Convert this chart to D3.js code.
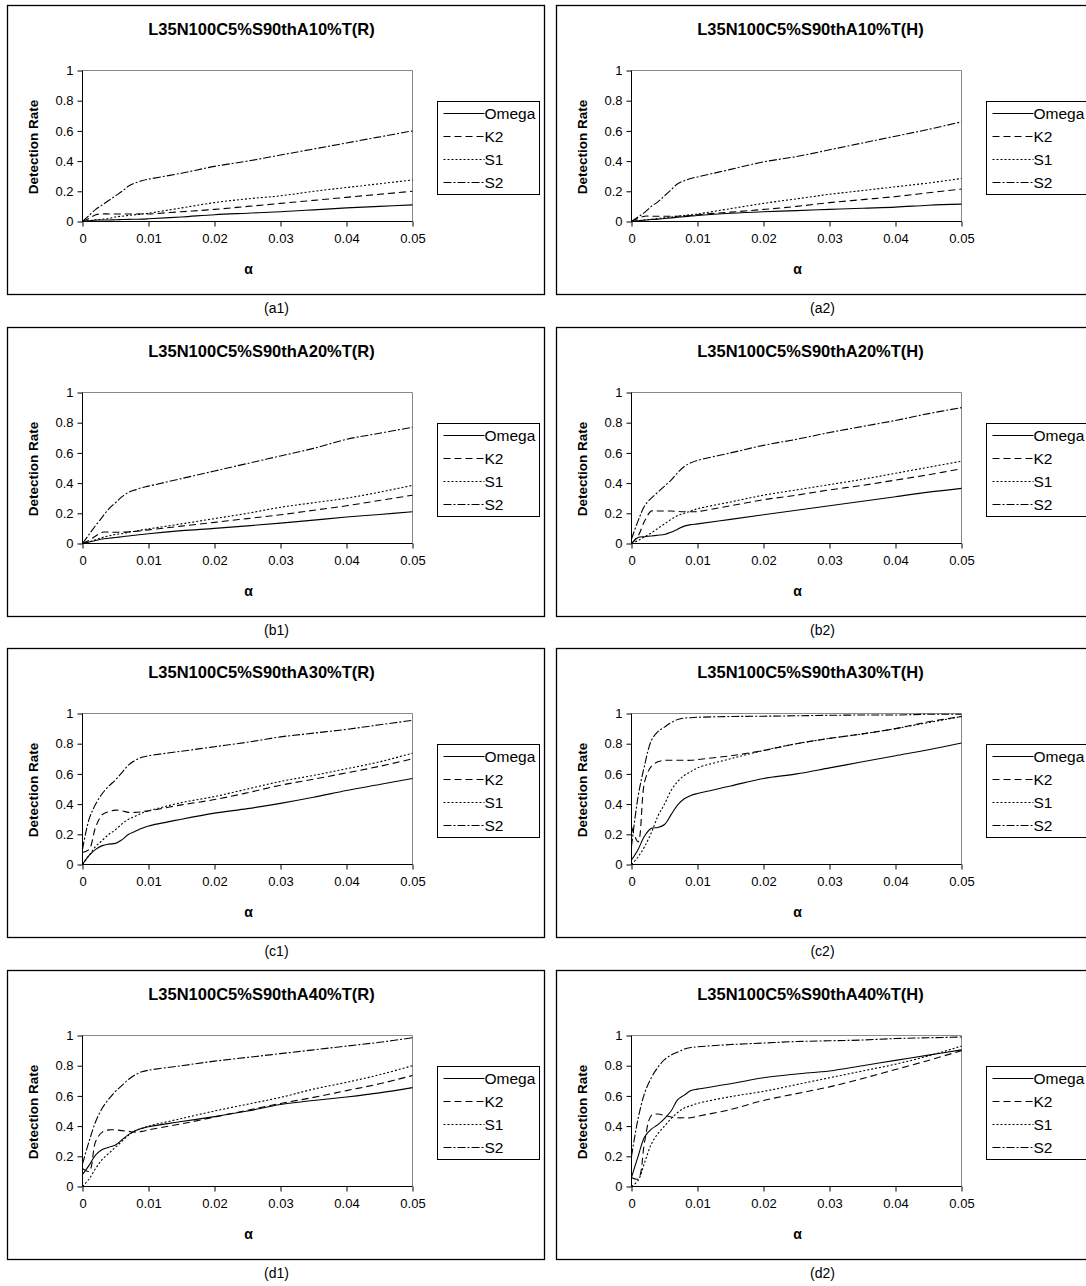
<!DOCTYPE html>
<html>
<head>
<meta charset="utf-8">
<script src="https://cdn.jsdelivr.net/npm/d3@7/dist/d3.min.js"></script>
<style>
  body { margin: 0; background: #fff; }
  svg { display: block; font-family: "Liberation Sans", Arial, sans-serif; }
</style>
</head>
<body>
<div id="chart"></div>
<script>
// ---- data ----
const alphas = [0, 0.001, 0.002, 0.003, 0.004, 0.005, 0.006, 0.007, 0.008, 0.009,
  0.01, 0.015, 0.02, 0.025, 0.03, 0.035, 0.04, 0.045, 0.05];
const seriesNames = ['Omega', 'K2', 'S1', 'S2'];
const xTicks = [0, 0.01, 0.02, 0.03, 0.04, 0.05];
const yTicks = [0, 0.2, 0.4, 0.6, 0.8, 1];

const titles = [
  'L35N100C5%S90thA10%T(R)', 'L35N100C5%S90thA10%T(H)',
  'L35N100C5%S90thA20%T(R)', 'L35N100C5%S90thA20%T(H)',
  'L35N100C5%S90thA30%T(R)', 'L35N100C5%S90thA30%T(H)',
  'L35N100C5%S90thA40%T(R)', 'L35N100C5%S90thA40%T(H)'
];
const captions = ['(a1)', '(a2)', '(b1)', '(b2)', '(c1)', '(c2)', '(d1)', '(d2)'];

// each panel: [Omega, K2, S1, S2]
const a1Values = [
  [0, 0.005, 0.01, 0.01, 0.01, 0.012, 0.013, 0.014, 0.015, 0.016, 0.018, 0.03, 0.045, 0.055, 0.065, 0.077, 0.09, 0.1, 0.11],
  [0, 0.02, 0.045, 0.05, 0.05, 0.05, 0.05, 0.05, 0.05, 0.05, 0.05, 0.065, 0.08, 0.1, 0.12, 0.14, 0.16, 0.18, 0.2],
  [0, 0.005, 0.01, 0.015, 0.02, 0.03, 0.035, 0.04, 0.045, 0.05, 0.055, 0.09, 0.125, 0.15, 0.17, 0.2, 0.225, 0.25, 0.275],
  [0, 0.04, 0.08, 0.11, 0.14, 0.17, 0.2, 0.235, 0.255, 0.27, 0.28, 0.32, 0.365, 0.4, 0.44, 0.48, 0.52, 0.56, 0.6]
];
const a2Values = [
  [0, 0.005, 0.01, 0.013, 0.016, 0.02, 0.024, 0.028, 0.032, 0.036, 0.04, 0.055, 0.065, 0.072, 0.08, 0.088, 0.095, 0.108, 0.115],
  [0, 0.02, 0.035, 0.035, 0.035, 0.035, 0.035, 0.035, 0.037, 0.04, 0.045, 0.062, 0.08, 0.1, 0.125, 0.145, 0.165, 0.19, 0.215],
  [0, 0.005, 0.01, 0.015, 0.02, 0.025, 0.03, 0.035, 0.04, 0.045, 0.05, 0.085, 0.12, 0.15, 0.18, 0.205, 0.23, 0.255, 0.285],
  [0, 0.03, 0.06, 0.1, 0.13, 0.17, 0.21, 0.25, 0.27, 0.285, 0.295, 0.345, 0.395, 0.43, 0.475, 0.52, 0.565, 0.61, 0.66]
];
const b1Values = [
  [0, 0.01, 0.02, 0.03, 0.035, 0.04, 0.045, 0.05, 0.055, 0.06, 0.065, 0.085, 0.1, 0.117, 0.135, 0.155, 0.175, 0.192, 0.21],
  [0, 0.02, 0.05, 0.075, 0.075, 0.075, 0.075, 0.077, 0.08, 0.085, 0.09, 0.115, 0.14, 0.165, 0.19, 0.22, 0.25, 0.285, 0.32],
  [0, 0.01, 0.025, 0.04, 0.05, 0.06, 0.065, 0.075, 0.082, 0.09, 0.097, 0.13, 0.165, 0.2, 0.24, 0.27, 0.3, 0.34, 0.385],
  [0, 0.06, 0.12, 0.175, 0.23, 0.27, 0.31, 0.34, 0.355, 0.37, 0.38, 0.43, 0.48, 0.53, 0.58, 0.63, 0.69, 0.73, 0.77]
];
const b2Values = [
  [0, 0.04, 0.045, 0.05, 0.055, 0.06, 0.075, 0.095, 0.115, 0.125, 0.13, 0.16, 0.19, 0.22, 0.25, 0.28, 0.31, 0.34, 0.365],
  [0, 0.05, 0.15, 0.215, 0.215, 0.215, 0.215, 0.212, 0.21, 0.21, 0.212, 0.25, 0.29, 0.32, 0.355, 0.385, 0.42, 0.455, 0.495],
  [0, 0.02, 0.045, 0.07, 0.1, 0.13, 0.16, 0.185, 0.2, 0.215, 0.23, 0.275, 0.32, 0.355, 0.39, 0.425, 0.465, 0.505, 0.545],
  [0.03, 0.15, 0.25, 0.3, 0.34, 0.38, 0.42, 0.47, 0.51, 0.535, 0.55, 0.6, 0.65, 0.69, 0.735, 0.775, 0.815, 0.86, 0.9]
];
const c1Values = [
  [0, 0.06, 0.1, 0.125, 0.135, 0.14, 0.165, 0.2, 0.22, 0.24, 0.255, 0.3, 0.34, 0.37, 0.405, 0.445, 0.49, 0.53, 0.57],
  [0.08, 0.1, 0.25, 0.33, 0.35, 0.36, 0.355, 0.345, 0.345, 0.35, 0.355, 0.395, 0.43, 0.475, 0.525, 0.565, 0.607, 0.65, 0.7],
  [0, 0.06, 0.12, 0.16, 0.2, 0.23, 0.27, 0.3, 0.32, 0.34, 0.355, 0.41, 0.45, 0.5, 0.55, 0.59, 0.634, 0.68, 0.737],
  [0.1, 0.3, 0.4, 0.47, 0.52, 0.56, 0.61, 0.66, 0.69, 0.71, 0.72, 0.75, 0.78, 0.81, 0.845, 0.87, 0.895, 0.925, 0.955]
];
const c2Values = [
  [0.03, 0.1, 0.19, 0.24, 0.245, 0.265, 0.33, 0.395, 0.435, 0.457, 0.47, 0.52, 0.57, 0.6, 0.64, 0.68, 0.72, 0.76, 0.805],
  [0.25, 0.15, 0.55, 0.65, 0.68, 0.69, 0.69, 0.69, 0.69, 0.69, 0.695, 0.72, 0.755, 0.8, 0.835, 0.865, 0.9, 0.945, 0.98],
  [0, 0.05, 0.12, 0.21, 0.32, 0.4, 0.49, 0.55, 0.59, 0.615, 0.64, 0.7, 0.755, 0.8, 0.835, 0.865, 0.9, 0.94, 0.98],
  [0.12, 0.45, 0.66, 0.82, 0.88, 0.91, 0.94, 0.96, 0.97, 0.972, 0.975, 0.98, 0.982, 0.985, 0.988, 0.99, 0.99, 0.995, 0.995]
];
const d1Values = [
  [0.08, 0.14, 0.21, 0.245, 0.26, 0.275, 0.31, 0.345, 0.37, 0.385, 0.396, 0.43, 0.463, 0.5, 0.543, 0.57, 0.593, 0.62, 0.655],
  [0.12, 0.1, 0.3, 0.36, 0.375, 0.375, 0.37, 0.365, 0.36, 0.365, 0.375, 0.415, 0.46, 0.505, 0.55, 0.59, 0.635, 0.68, 0.735],
  [0, 0.05, 0.12, 0.18, 0.22, 0.26, 0.3, 0.34, 0.37, 0.385, 0.4, 0.45, 0.5, 0.545, 0.59, 0.645, 0.69, 0.74, 0.8],
  [0.15, 0.3, 0.43, 0.52, 0.58, 0.63, 0.67, 0.71, 0.74, 0.76, 0.77, 0.8, 0.83, 0.855, 0.88, 0.905, 0.93, 0.955, 0.985]
];
const d2Values = [
  [0.06, 0.2, 0.33, 0.38, 0.41, 0.45, 0.5, 0.575, 0.605, 0.635, 0.645, 0.68, 0.72, 0.745, 0.765, 0.8, 0.835, 0.87, 0.905],
  [0.06, 0.05, 0.3, 0.47, 0.48, 0.47, 0.46, 0.455, 0.455, 0.455, 0.465, 0.51, 0.57, 0.615, 0.66, 0.715, 0.775, 0.835, 0.9],
  [0, 0.04, 0.16, 0.28, 0.35, 0.4, 0.45, 0.49, 0.52, 0.535, 0.55, 0.595, 0.63, 0.675, 0.72, 0.765, 0.81, 0.865, 0.93],
  [0.2, 0.45, 0.62, 0.72, 0.79, 0.84, 0.87, 0.89, 0.91, 0.92, 0.925, 0.94, 0.95, 0.96, 0.965, 0.97, 0.98, 0.985, 0.99]
];
const panelValues = [a1Values, a2Values, b1Values, b2Values, c1Values, c2Values, d1Values, d2Values];

// ---- layout ----
const cfg = {
  width: 1086,
  height: 1286,
  colX: [7.5, 556.5],
  rowY: [5.5, 327.5, 648.5, 970.5],
  frameW: 537,
  frameH: 289,
  plot: { left: 75, right: 405, top: 65, bottom: 216 },
  legend: { x: 430, y: 96, w: 102, h: 93, rowGap: 23 },
  dashes: ['none', '7,4', '2,2', '8,2,2,2'],
  font: { title: 16.5, tick: 13, axisTitle: 13.5, alpha: 14, legend: 15.5, caption: 14 },
};

const svg = d3.select('#chart')
  .append('svg')
  .attr('width', cfg.width)
  .attr('height', cfg.height);

svg.append('rect')
  .attr('width', cfg.width)
  .attr('height', cfg.height)
  .attr('fill', '#fff');

const x = d3.scaleLinear().domain([0, 0.05]).range([cfg.plot.left, cfg.plot.right]);
const y = d3.scaleLinear().domain([0, 1]).range([cfg.plot.bottom, cfg.plot.top]);

const line = d3.line()
  .x((d, i) => x(alphas[i]))
  .y(d => y(d))
  .curve(d3.curveCatmullRom.alpha(0.5));

panelValues.forEach((values, p) => {
  const col = p % 2;
  const row = Math.floor(p / 2);
  const fx = cfg.colX[col];
  const fy = cfg.rowY[row];
  const g = svg.append('g').attr('transform', `translate(${fx},${fy})`);

  // chart frame
  g.append('rect')
    .attr('width', cfg.frameW)
    .attr('height', cfg.frameH)
    .attr('fill', 'none')
    .attr('stroke', '#000')
    .attr('stroke-width', 1.3);

  // title
  g.append('text')
    .attr('x', 254)
    .attr('y', 29)
    .attr('text-anchor', 'middle')
    .attr('font-size', cfg.font.title)
    .attr('font-weight', 'bold')
    .text(titles[p]);

  // plot border (top/right gray)
  g.append('path')
    .attr('d', `M${cfg.plot.left},${cfg.plot.top}H${cfg.plot.right}V${cfg.plot.bottom}`)
    .attr('fill', 'none')
    .attr('stroke', '#888')
    .attr('stroke-width', 1);

  // axes
  const xAxis = d3.axisBottom(x)
    .tickValues(xTicks)
    .tickSize(5)
    .tickPadding(7)
    .tickFormat(d => d === 0 ? '0' : String(+d.toFixed(2)));
  const yAxis = d3.axisLeft(y)
    .tickValues(yTicks)
    .tickSize(5)
    .tickPadding(4)
    .tickFormat(d => String(+d.toFixed(1)));

  const gx = g.append('g')
    .attr('transform', `translate(0,${cfg.plot.bottom})`)
    .call(xAxis);
  const gy = g.append('g')
    .attr('transform', `translate(${cfg.plot.left},0)`)
    .call(yAxis);
  [gx, gy].forEach(ax => {
    ax.select('.domain').attr('stroke', '#000');
    ax.selectAll('.tick line').attr('stroke', '#000');
    ax.selectAll('text')
      .attr('font-family', '"Liberation Sans", Arial, sans-serif')
      .attr('font-size', cfg.font.tick)
      .attr('fill', '#000');
  });
  gx.select('.domain').attr('d', `M${cfg.plot.left},0H${cfg.plot.right}`);
  gy.select('.domain').attr('d', `M0,${cfg.plot.top}V${cfg.plot.bottom}`);

  // axis titles
  g.append('text')
    .attr('transform', `translate(30,${(cfg.plot.top + cfg.plot.bottom) / 2 + 1}) rotate(-90)`)
    .attr('text-anchor', 'middle')
    .attr('font-size', cfg.font.axisTitle)
    .attr('font-weight', 'bold')
    .text('Detection Rate');

  g.append('text')
    .attr('x', (cfg.plot.left + cfg.plot.right) / 2 + 1)
    .attr('y', 268)
    .attr('text-anchor', 'middle')
    .attr('font-size', cfg.font.alpha)
    .attr('font-weight', 'bold')
    .text('α');

  // series lines
  values.forEach((s, i) => {
    g.append('path')
      .datum(s)
      .attr('d', line)
      .attr('fill', 'none')
      .attr('stroke', '#000')
      .attr('stroke-width', 1.1)
      .attr('stroke-dasharray', cfg.dashes[i]);
  });

  // legend
  const lg = g.append('g').attr('transform', `translate(${cfg.legend.x},${cfg.legend.y})`);
  lg.append('rect')
    .attr('width', cfg.legend.w)
    .attr('height', cfg.legend.h)
    .attr('fill', '#fff')
    .attr('stroke', '#000')
    .attr('stroke-width', 1);
  seriesNames.forEach((name, i) => {
    const ly = 12 + i * cfg.legend.rowGap;
    lg.append('line')
      .attr('x1', 6).attr('x2', 47)
      .attr('y1', ly).attr('y2', ly)
      .attr('stroke', '#000')
      .attr('stroke-width', 1)
      .attr('stroke-dasharray', cfg.dashes[i]);
    lg.append('text')
      .attr('x', 47)
      .attr('y', ly + 5.5)
      .attr('font-size', cfg.font.legend)
      .text(name);
  });

  // caption under the frame
  svg.append('text')
    .attr('x', fx + (col === 0 ? 269 : 266))
    .attr('y', fy + cfg.frameH + 18)
    .attr('text-anchor', 'middle')
    .attr('font-size', cfg.font.caption)
    .text(captions[p]);
});
</script>
</body>
</html>
